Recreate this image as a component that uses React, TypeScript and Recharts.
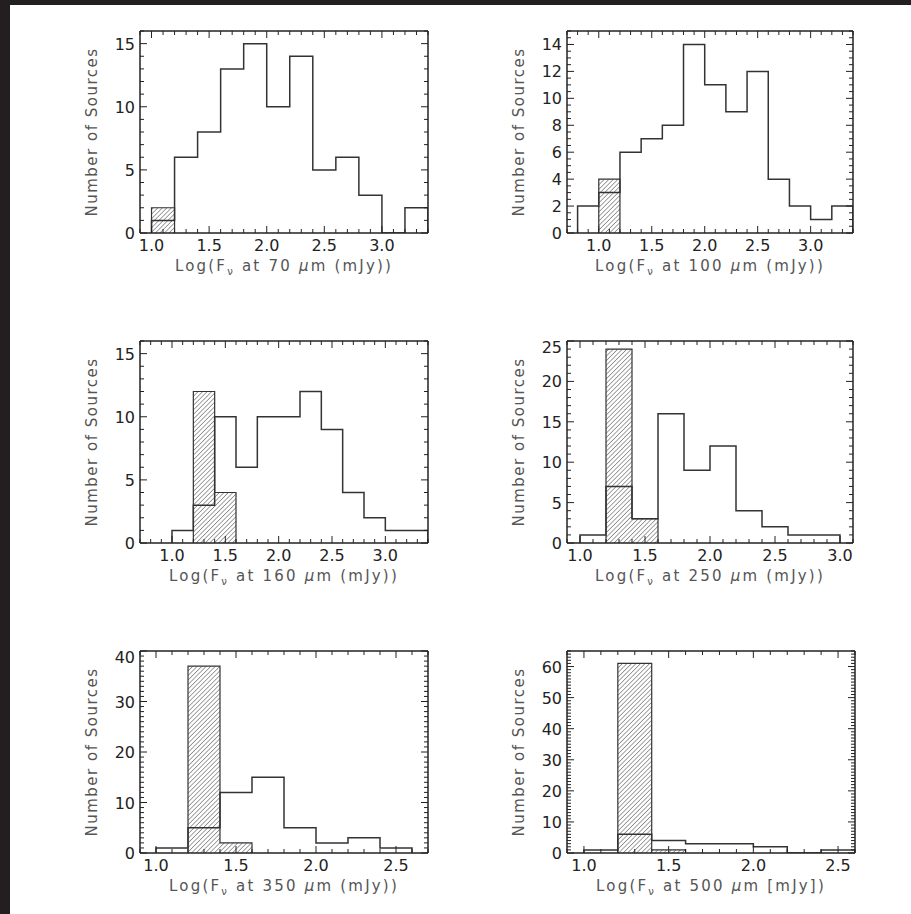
import React from 'react';
import { ComposedChart, Line, Area, XAxis, YAxis } from 'recharts';

// ---------- data (bin starts, counts per bin; bin width 0.2 in log flux) ----------
const BIN_WIDTH = 0.2;

const bins70 = [1.0, 1.2, 1.4, 1.6, 1.8, 2.0, 2.2, 2.4, 2.6, 2.8, 3.0, 3.2];
const all70 = [1, 6, 8, 13, 15, 10, 14, 5, 6, 3, 0, 2];
const hatchBins70 = [1.0];
const hatch70 = [2];

const bins100 = [0.8, 1.0, 1.2, 1.4, 1.6, 1.8, 2.0, 2.2, 2.4, 2.6, 2.8, 3.0, 3.2];
const all100 = [2, 3, 6, 7, 8, 14, 11, 9, 12, 4, 2, 1, 2];
const hatchBins100 = [1.0];
const hatch100 = [4];

const bins160 = [1.0, 1.2, 1.4, 1.6, 1.8, 2.0, 2.2, 2.4, 2.6, 2.8, 3.0, 3.2];
const all160 = [1, 3, 10, 6, 10, 10, 12, 9, 4, 2, 1, 1];
const hatchBins160 = [1.2, 1.4];
const hatch160 = [12, 4];

const bins250 = [1.0, 1.2, 1.4, 1.6, 1.8, 2.0, 2.2, 2.4, 2.6, 2.8];
const all250 = [1, 7, 3, 16, 9, 12, 4, 2, 1, 1];
const hatchBins250 = [1.2, 1.4];
const hatch250 = [24, 3];

const bins350 = [1.0, 1.2, 1.4, 1.6, 1.8, 2.0, 2.2, 2.4];
const all350 = [1, 5, 12, 15, 5, 2, 3, 1];
const hatchBins350 = [1.2, 1.4];
const hatch350 = [37, 2];

const bins500 = [1.0, 1.2, 1.4, 1.6, 1.8, 2.0, 2.2, 2.4];
const all500 = [1, 6, 4, 3, 3, 2, 0, 1];
const hatchBins500 = [1.2, 1.4];
const hatch500 = [61, 1];

// tick labels
const xMajorA = [1.0, 1.5, 2.0, 2.5, 3.0];
const xMajorB = [1.0, 1.5, 2.0, 2.5];
const yMajor15 = [0, 5, 10, 15];
const yMajor14 = [0, 2, 4, 6, 8, 10, 12, 14];
const yMajor25 = [0, 5, 10, 15, 20, 25];
const yMajor40 = [0, 10, 20, 30, 40];
const yMajor60 = [0, 10, 20, 30, 40, 50, 60];

// ---------- helpers ----------
const stepPoints = (bins: number[], counts: number[]) => {
  const pts: { x: number; y: number }[] = [{ x: bins[0], y: 0 }];
  bins.forEach((b, i) => pts.push({ x: b, y: counts[i] }));
  const end = +(bins[bins.length - 1] + BIN_WIDTH).toFixed(3);
  pts.push({ x: end, y: counts[counts.length - 1] });
  pts.push({ x: end, y: 0 });
  return pts;
};

const withMinors = (lo: number, hi: number, step: number) => {
  const out: number[] = [];
  const n = Math.round((hi - lo) / step);
  for (let i = 0; i <= n; i++) out.push(+(lo + i * step).toFixed(4));
  return out;
};

const isIn = (arr: number[], v: number) => arr.some((m) => Math.abs(m - v) < 1e-6);

const FRAME = '#222';
const LINE = '#333';
const TICK_FONT = "'DejaVu Sans', sans-serif";
const TITLE_FONT = "'DejaVu Sans', sans-serif";

const makeTick = (side: 'bottom' | 'top' | 'left' | 'right', majors: number[], fmt: (v: number) => string, top?: number) =>
  (props: any) => {
    const { x, y, payload } = props;
    const v = payload.value;
    const major = isIn(majors, v);
    const len = major ? 7 : 4;
    let line;
    if (side === 'bottom') line = <line x1={x} y1={y} x2={x} y2={y - len} stroke={FRAME} strokeWidth={1} />;
    else if (side === 'top') line = <line x1={x} y1={y} x2={x} y2={y + len} stroke={FRAME} strokeWidth={1} />;
    else if (side === 'left') line = <line x1={x} y1={y} x2={x + len} y2={y} stroke={FRAME} strokeWidth={1} />;
    else line = <line x1={x} y1={y} x2={x - len} y2={y} stroke={FRAME} strokeWidth={1} />;
    let label = null;
    if (major && side === 'bottom') {
      label = (
        <text x={x} y={y + 18} textAnchor="middle" fontFamily={TICK_FONT} fontSize={16} fill="#222">
          {fmt(v)}
        </text>
      );
    } else if (major && side === 'left') {
      const shift = top !== undefined && Math.abs(v - top) < 1e-6 ? 6 : 0;
      label = (
        <text x={x - 5} y={y + 6 + shift} textAnchor="end" fontFamily={TICK_FONT} fontSize={16} fill="#222">
          {fmt(v)}
        </text>
      );
    }
    return (
      <g>
        {line}
        {label}
      </g>
    );
  };

type PanelProps = {
  id: string;
  left: number;
  top: number;
  w: number;
  h: number;
  bins: number[];
  all: number[];
  hatchBins: number[];
  hatch: number[];
  xDomain: [number, number];
  xMajor: number[];
  yDomain: [number, number];
  yMajor: number[];
  yMinorStep: number;
  wave: string;
  unitBrackets?: boolean;
};

const Panel = (p: PanelProps) => {
  const ML = 90;
  const MT = 10;
  const MR = 10;
  const MB = 50;
  const openPts = stepPoints(p.bins, p.all);
  const hatchPts = stepPoints(p.hatchBins, p.hatch);
  const xTicks = withMinors(Math.ceil(p.xDomain[0] * 10 - 1e-6) / 10, Math.floor(p.xDomain[1] * 10 + 1e-6) / 10, 0.1);
  const yTicks = withMinors(p.yDomain[0], p.yDomain[1], p.yMinorStep);
  const fmtX = (v: number) => v.toFixed(1);
  const fmtY = (v: number) => String(v);
  const pid = `hatch-${p.id}`;
  const open = p.unitBrackets ? '[' : '(';
  const close = p.unitBrackets ? ']' : ')';

  return (
    <div style={{ position: 'absolute', left: p.left - ML, top: p.top - MT }}>
      <ComposedChart width={p.w + ML + MR} height={p.h + MT + MB} margin={{ top: MT - 1, right: MR - 1, bottom: 0, left: 0 }}>
        <defs>
          <pattern id={pid} patternUnits="userSpaceOnUse" width={3.2} height={3.2} patternTransform="rotate(-45)">
            <line x1={0} y1={0} x2={3.2} y2={0} stroke="#444" strokeWidth={1} />
          </pattern>
        </defs>
        <XAxis
          xAxisId="b"
          orientation="bottom"
          type="number"
          dataKey="x"
          domain={p.xDomain}
          allowDataOverflow
          ticks={xTicks}
          interval={0}
          tickLine={false}
          tickSize={0}
          tickMargin={0}
          height={MB}
          axisLine={{ stroke: FRAME, strokeWidth: 1.5 }}
          tick={makeTick('bottom', p.xMajor, fmtX)}
          label={{
            content: (lp: any) => {
              const vb = lp.viewBox || { x: 0, y: 0, width: 0, height: 0 };
              return (
                <text
                  x={vb.x + vb.width / 2}
                  y={vb.y + 38}
                  textAnchor="middle"
                  fontFamily={TITLE_FONT}
                  fontSize={15}
                  letterSpacing={2.2}
                  fill="#555"
                >
                  Log(F
                  <tspan fontSize={10} dy={4}>ν</tspan>
                  <tspan dy={-4}>{` at ${p.wave} `}</tspan>
                  <tspan fontStyle="italic">μ</tspan>
                  {`m ${open}mJy${close})`}
                </text>
              );
            },
          }}
        />
        <XAxis
          xAxisId="t"
          orientation="top"
          type="number"
          dataKey="x"
          domain={p.xDomain}
          allowDataOverflow
          ticks={xTicks}
          interval={0}
          tickLine={false}
          tickSize={0}
          tickMargin={0}
          height={1}
          axisLine={{ stroke: FRAME, strokeWidth: 1.5 }}
          tick={makeTick('top', p.xMajor, fmtX)}
        />
        <YAxis
          yAxisId="l"
          orientation="left"
          type="number"
          domain={p.yDomain}
          allowDataOverflow
          ticks={yTicks}
          interval={0}
          tickLine={false}
          tickSize={0}
          tickMargin={0}
          width={ML}
          axisLine={{ stroke: FRAME, strokeWidth: 1.5 }}
          tick={makeTick('left', p.yMajor, fmtY, p.yDomain[1])}
          label={{
            content: (lp: any) => {
              const vb = lp.viewBox || { x: 0, y: 0, width: 0, height: 0 };
              const cx = vb.x + vb.width - 48;
              const cy = vb.y + vb.height / 2;
              return (
                <text
                  x={cx}
                  y={cy}
                  transform={`rotate(-90 ${cx} ${cy})`}
                  textAnchor="middle"
                  dominantBaseline="central"
                  fontFamily={TITLE_FONT}
                  fontSize={15}
                  letterSpacing={1.5}
                  fill="#555"
                >
                  Number of Sources
                </text>
              );
            },
          }}
        />
        <YAxis
          yAxisId="r"
          orientation="right"
          type="number"
          domain={p.yDomain}
          allowDataOverflow
          ticks={yTicks}
          interval={0}
          tickLine={false}
          tickSize={0}
          tickMargin={0}
          width={1}
          axisLine={{ stroke: FRAME, strokeWidth: 1.5 }}
          tick={makeTick('right', p.yMajor, fmtY)}
        />
        <Area
          xAxisId="b"
          yAxisId="l"
          data={hatchPts}
          dataKey="y"
          type="stepAfter"
          baseValue={0}
          fill={`url(#${pid})`}
          fillOpacity={1}
          stroke={LINE}
          strokeWidth={1.2}
          dot={false}
          activeDot={false}
          isAnimationActive={false}
        />
        <Line
          xAxisId="b"
          yAxisId="l"
          data={openPts}
          dataKey="y"
          type="stepAfter"
          stroke={LINE}
          strokeWidth={1.5}
          dot={false}
          activeDot={false}
          isAnimationActive={false}
        />
        <Line
          xAxisId="t"
          yAxisId="r"
          data={openPts}
          dataKey="y"
          type="stepAfter"
          stroke="none"
          dot={false}
          activeDot={false}
          legendType="none"
          isAnimationActive={false}
        />
      </ComposedChart>
    </div>
  );
};

export default function App() {
  return (
    <div style={{ position: 'absolute', left: 0, top: 0, width: 911, height: 914, background: '#fff', overflow: 'hidden' }}>
      <div style={{ position: 'absolute', left: 0, top: 0, width: 10, height: 914, background: '#231f20' }} />
      <div style={{ position: 'absolute', left: 0, top: 0, width: 911, height: 5, background: '#231f20' }} />
      <Panel id="70" left={140} top={31} w={288} h={202} bins={bins70} all={all70} hatchBins={hatchBins70} hatch={hatch70}
        xDomain={[0.9, 3.4]} xMajor={xMajorA} yDomain={[0, 16]} yMajor={yMajor15} yMinorStep={1} wave="70" />
      <Panel id="100" left={567} top={31} w={286} h={202} bins={bins100} all={all100} hatchBins={hatchBins100} hatch={hatch100}
        xDomain={[0.7, 3.4]} xMajor={xMajorA} yDomain={[0, 15]} yMajor={yMajor14} yMinorStep={0.5} wave="100" />
      <Panel id="160" left={140} top={341} w={288} h={202} bins={bins160} all={all160} hatchBins={hatchBins160} hatch={hatch160}
        xDomain={[0.7, 3.4]} xMajor={xMajorA} yDomain={[0, 16]} yMajor={yMajor15} yMinorStep={1} wave="160" />
      <Panel id="250" left={567} top={341} w={286} h={202} bins={bins250} all={all250} hatchBins={hatchBins250} hatch={hatch250}
        xDomain={[0.9, 3.1]} xMajor={xMajorA} yDomain={[0, 25]} yMajor={yMajor25} yMinorStep={1} wave="250" />
      <Panel id="350" left={140} top={651} w={288} h={202} bins={bins350} all={all350} hatchBins={hatchBins350} hatch={hatch350}
        xDomain={[0.9, 2.7]} xMajor={xMajorB} yDomain={[0, 40]} yMajor={yMajor40} yMinorStep={1} wave="350" />
      <Panel id="500" left={567} top={651} w={288} h={202} bins={bins500} all={all500} hatchBins={hatchBins500} hatch={hatch500}
        xDomain={[0.9, 2.6]} xMajor={xMajorB} yDomain={[0, 65]} yMajor={yMajor60} yMinorStep={1} wave="500" unitBrackets />
    </div>
  );
}
